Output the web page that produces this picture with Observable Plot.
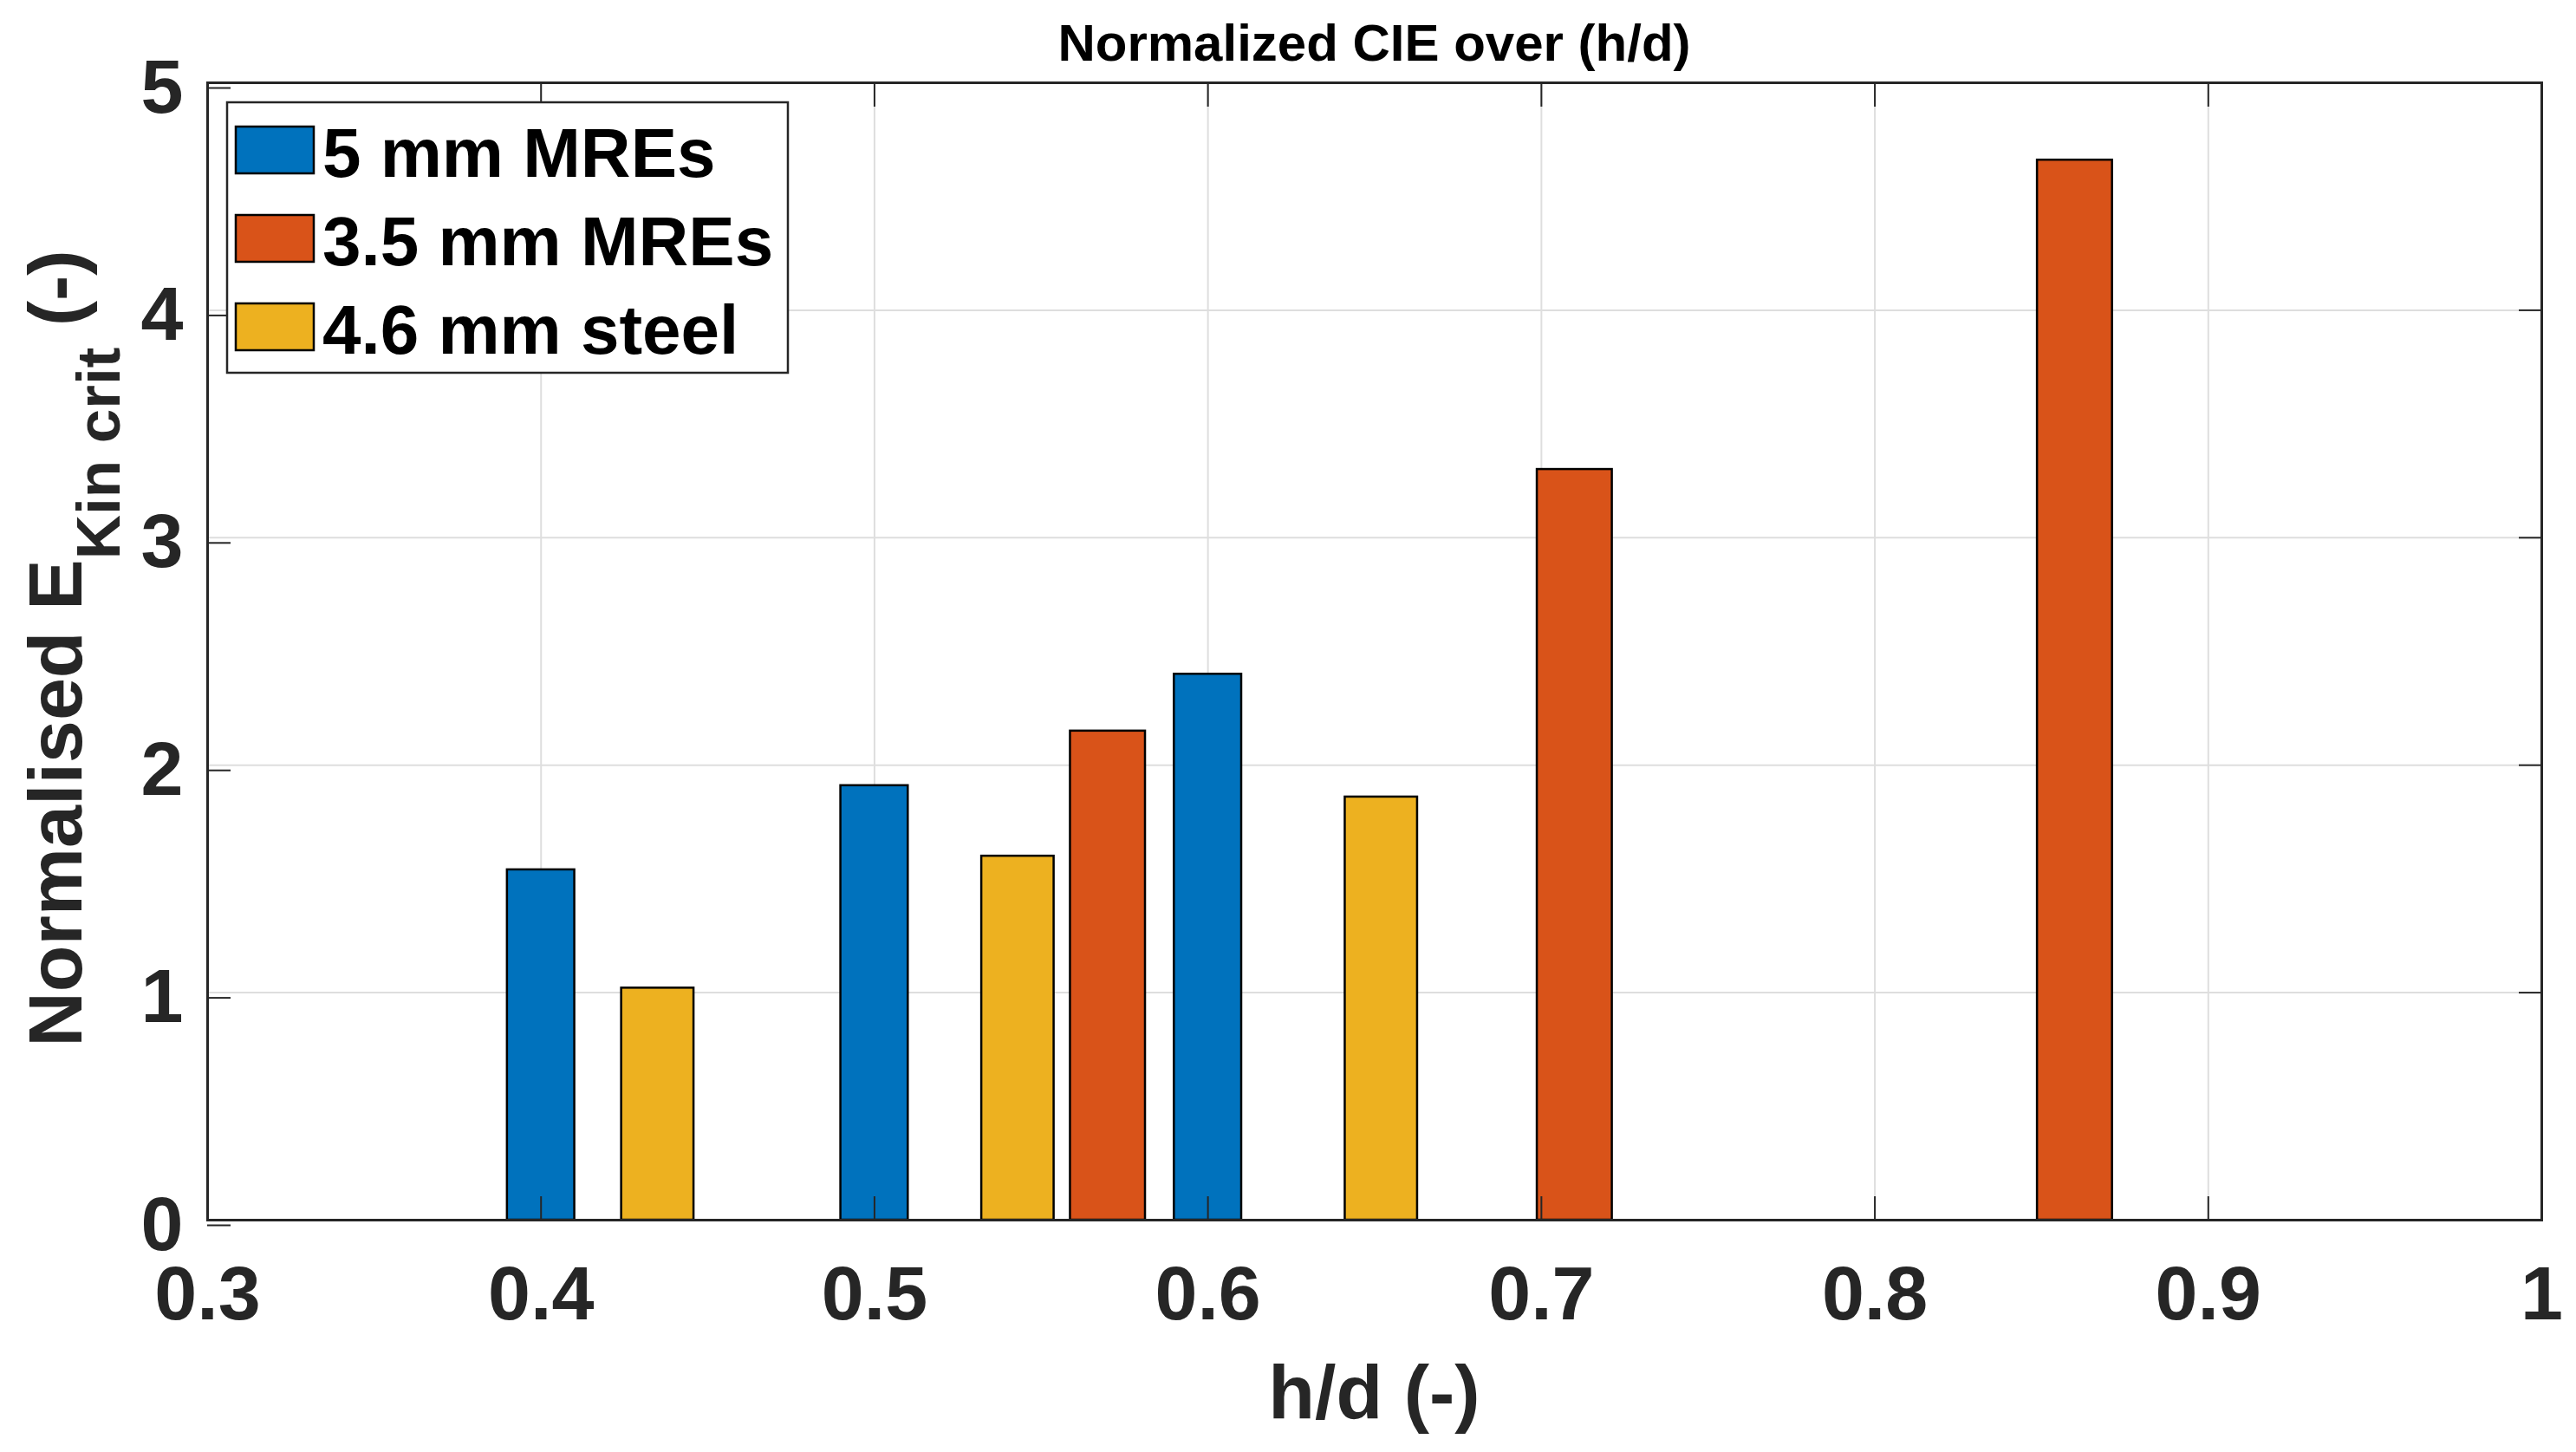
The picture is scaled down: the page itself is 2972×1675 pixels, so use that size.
<!DOCTYPE html>
<html><head><meta charset="utf-8">
<script src="https://cdn.jsdelivr.net/npm/d3@7"></script>
<script src="https://cdn.jsdelivr.net/npm/@observablehq/plot@0.6"></script>
<style>
html,body{margin:0;padding:0;background:#fff;}
#chart{position:relative;width:2972px;height:1675px;}
</style></head><body><div id="chart"></div>
<script>
// ---- data ----
const seriesNames = ["5 mm MREs", "3.5 mm MREs", "4.6 mm steel"];
const seriesColors = ["#0072BD", "#D95319", "#EDB120"];
const hd5 = [0.4, 0.5, 0.6];
const e5 = [1.54, 1.91, 2.40];
const hd35 = [0.57, 0.71, 0.86];
const e35 = [2.15, 3.30, 4.66];
const hd46 = [0.435, 0.543, 0.652];
const e46 = [1.02, 1.60, 1.86];
const xTicks = [0.3, 0.4, 0.5, 0.6, 0.7, 0.8, 0.9, 1];
const yTicks = [0, 1, 2, 3, 4, 5];
const titleText = "Normalized CIE over (h/d)";
const xLabel = "h/d (-)";

// ---- style constants ----
const FONT = "'Liberation Sans', Arial, sans-serif";
const barHalfWidth = {"5 mm MREs": 0.0101, "3.5 mm MREs": 0.01125, "4.6 mm steel": 0.01085};

const rows = [];
[[hd5, e5], [hd35, e35], [hd46, e46]].forEach(([xs, ys], i) => {
  xs.forEach((x, j) => rows.push({series: seriesNames[i], hd: x, e: ys[j]}));
});

const W = 2972, H = 1675;
const mL = 239, mR = 40, mT = 95, mB = 268;

const plot = Plot.plot({
  width: W, height: H,
  marginLeft: mL, marginRight: mR, marginTop: mT, marginBottom: mB,
  style: {fontFamily: FONT, background: "#fff", overflow: "visible"},
  x: {domain: [0.3, 1], label: null},
  y: {domain: [0, 5], label: null},
  color: {domain: seriesNames, range: seriesColors},
  marks: [
    Plot.gridX(xTicks, {stroke: "#dedede", strokeOpacity: 1, strokeWidth: 2}),
    Plot.gridY(yTicks, {stroke: "#dedede", strokeOpacity: 1, strokeWidth: 2}),
    Plot.rectY(rows, {
      x1: d => d.hd - barHalfWidth[d.series],
      x2: d => d.hd + barHalfWidth[d.series],
      y1: 0, y2: "e",
      fill: "series", stroke: "#000", strokeWidth: 2.5
    }),
    Plot.axisX(xTicks, {anchor: "bottom", tickSize: -27, tickPadding: 79, color: "#262626", strokeWidth: 2,
      fontSize: 88, fontWeight: "bold", tickFormat: d => String(d), label: null}),
    Plot.axisX(xTicks, {anchor: "top", tickSize: -27, stroke: "#262626", fill: "none", strokeWidth: 2, label: null}),
    Plot.axisY(yTicks, {anchor: "left", tickSize: -27, tickPadding: 55, dy: 6, color: "#262626", strokeWidth: 2,
      fontSize: 88, fontWeight: "bold", tickFormat: d => String(d), label: null}),
    Plot.axisY(yTicks, {anchor: "right", tickSize: -27, stroke: "#262626", fill: "none", strokeWidth: 2, label: null}),
    Plot.frame({stroke: "#262626", strokeWidth: 3})
  ]
});

document.getElementById("chart").appendChild(plot);

const svg = d3.select(plot);
const plotCx = mL + (W - mL - mR) / 2;
const plotCy = mT + (H - mT - mB) / 2;

// title
svg.append("text")
  .attr("x", plotCx).attr("y", 70)
  .attr("text-anchor", "middle")
  .attr("font-family", FONT).attr("font-weight", "bold").attr("font-size", 60)
  .attr("fill", "#000")
  .text(titleText);

// x label
svg.append("text")
  .attr("x", plotCx).attr("y", 1636)
  .attr("text-anchor", "middle")
  .attr("font-family", FONT).attr("font-weight", "bold").attr("font-size", 88)
  .attr("fill", "#262626")
  .text(xLabel);

// y label with subscript
const yl = svg.append("text")
  .attr("transform", `translate(94,${plotCy - 3}) rotate(-90)`)
  .attr("text-anchor", "middle")
  .attr("font-family", FONT).attr("font-weight", "bold").attr("font-size", 88)
  .attr("fill", "#262626")
  .style("white-space", "pre");
yl.append("tspan").text("Normalised E");
yl.append("tspan").attr("font-size", 71).attr("dy", 44).text("Kin crit");
yl.append("tspan").attr("dy", -44).text(" (-)");

// legend
const lg = svg.append("g").attr("font-family", FONT).attr("font-weight", "bold").attr("text-anchor", "start");
lg.append("rect").attr("x", 262).attr("y", 118).attr("width", 647).attr("height", 312)
  .attr("fill", "#fff").attr("stroke", "#262626").attr("stroke-width", 2.5);
seriesNames.forEach((name, i) => {
  lg.append("rect").attr("x", 272).attr("y", 146 + i * 102).attr("width", 90).attr("height", 54)
    .attr("fill", seriesColors[i]).attr("stroke", "#000").attr("stroke-width", 2.5);
  lg.append("text").attr("x", 372).attr("y", 204 + i * 102).attr("text-anchor", "start")
    .attr("font-size", 80).attr("fill", "#000").text(name);
});
</script>
</body></html>
